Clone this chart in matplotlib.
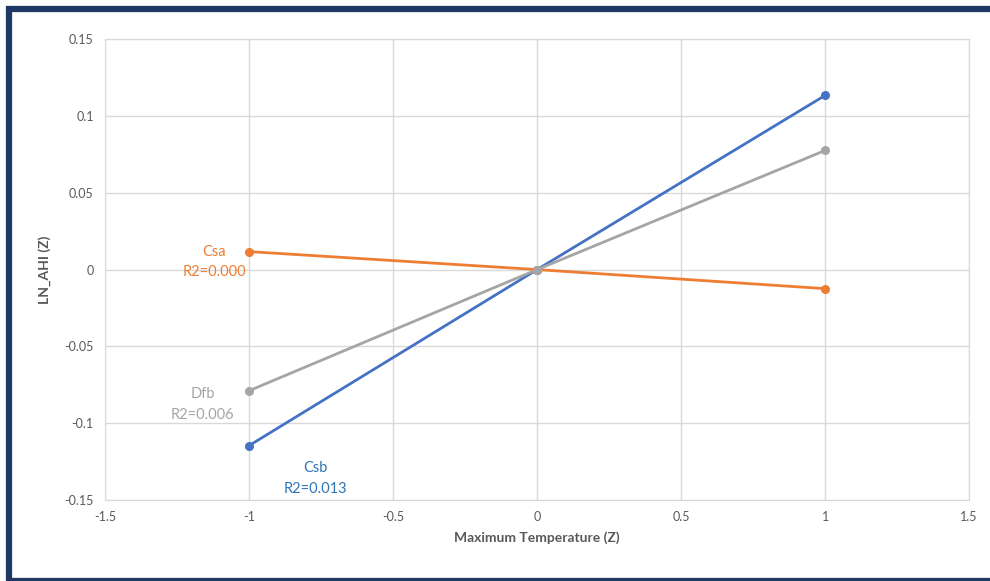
import matplotlib.pyplot as plt
from matplotlib.patches import Rectangle

plt.rcParams['font.family'] = ['Lato', 'DejaVu Sans']

x_vals = [-1, 0, 1]
csb = [-0.1145, 0.0, 0.1133]
dfb = [-0.0788, 0.0, 0.0775]
csa = [0.0117, 0.0, -0.0124]

series = [
    ('Csb', 'R2=0.013', csb, '#4472C4', '#2E75B6', (-0.77, -0.129)),
    ('Csa', 'R2=0.000', csa, '#ED7D31', '#ED7D31', (-1.12, 0.0117)),
    ('Dfb', 'R2=0.006', dfb, '#A5A5A5', '#A5A5A5', (-1.16, -0.081)),
]
xticks = [-1.5, -1, -0.5, 0, 0.5, 1, 1.5]
xticklabels = ['-1.5', '-1', '-0.5', '0', '0.5', '1', '1.5']
yticks = [-0.15, -0.1, -0.05, 0, 0.05, 0.1, 0.15]
yticklabels = ['-0.15', '-0.1', '-0.05', '0', '0.05', '0.1', '0.15']

fig = plt.figure(figsize=(9.9, 5.81), dpi=100)
ax = fig.add_axes([0.106, 0.139, 0.873, 0.794])

for name, r2, vals, lc, tc, pos in series:
    ax.plot(x_vals, vals, color=lc, lw=2, marker='o', markersize=5.5, zorder=3)
    ax.text(pos[0], pos[1], name, color=tc, fontsize=10.5, ha='center', va='center')
    ax.text(pos[0], pos[1] - 0.0135, r2, color=tc, fontsize=10.5, ha='center', va='center')

ax.set_xlim(-1.5, 1.5)
ax.set_ylim(-0.15, 0.15)
ax.set_xticks(xticks)
ax.set_xticklabels(xticklabels)
ax.set_yticks(yticks)
ax.set_yticklabels(yticklabels)
ax.grid(True, color='#D9D9D9', lw=1)
ax.set_axisbelow(True)
for s in ax.spines.values():
    s.set_color('#D9D9D9')
ax.tick_params(length=0, labelsize=9, labelcolor='#595959', pad=8)
ax.set_xlabel('Maximum Temperature (Z)', fontsize=10, fontweight='bold', color='#595959', labelpad=6)
ax.set_ylabel('LN_AHI (Z)', fontsize=10, fontweight='bold', color='#595959', labelpad=10)

# dark frame: left, top and bottom edges, right edge runs off the image
fig.patches.append(Rectangle((9 / 990, 0.5 / 581), 1.05, 571.5 / 581, transform=fig.transFigure,
                             fill=False, edgecolor='#1F3864', lw=4.5))

fig.savefig('out.png', dpi=100)
